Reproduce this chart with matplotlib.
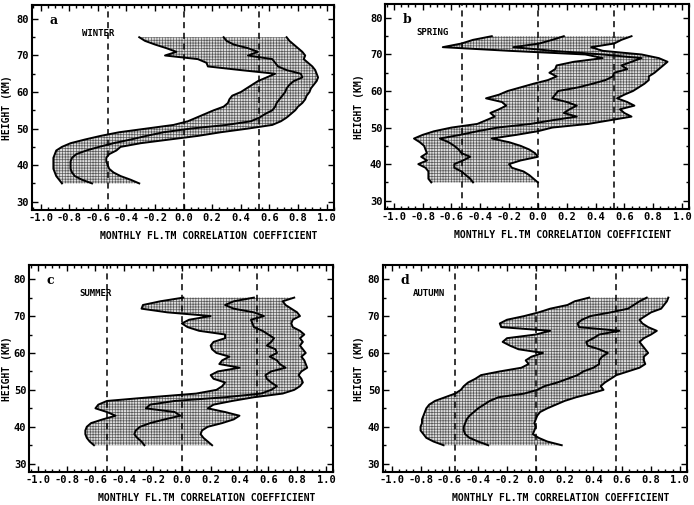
import numpy as np
import matplotlib.pyplot as plt
from matplotlib.ticker import MultipleLocator

plt.rcParams['hatch.linewidth'] = 0.5

# heights in km, top to bottom
height = np.arange(75, 34, -1)

# a: winter
winter_low = [-0.31, -0.27, -0.20, -0.12, -0.05, -0.13, 0.10, 0.16, 0.17, 0.40,
              0.64, 0.58, 0.52, 0.48, 0.44, 0.40, 0.34, 0.32, 0.31, 0.28,
              0.21, 0.15, 0.09, 0.03, -0.07, -0.26, -0.45, -0.58, -0.69, -0.79,
              -0.85, -0.89, -0.90, -0.91, -0.91, -0.91, -0.91, -0.90, -0.89, -0.87, -0.85]
winter_mid = [0.28, 0.30, 0.35, 0.45, 0.52, 0.45, 0.62, 0.64, 0.66, 0.72,
              0.82, 0.83, 0.77, 0.74, 0.72, 0.71, 0.69, 0.67, 0.65, 0.64,
              0.62, 0.57, 0.53, 0.47, 0.30, 0.05, -0.14, -0.26, -0.37, -0.49,
              -0.59, -0.68, -0.75, -0.78, -0.79, -0.79, -0.79, -0.78, -0.76, -0.71, -0.64]
winter_high = [0.72, 0.74, 0.77, 0.80, 0.83, 0.85, 0.84, 0.87, 0.90, 0.92,
               0.93, 0.94, 0.93, 0.91, 0.89, 0.88, 0.86, 0.85, 0.83, 0.80,
               0.78, 0.75, 0.72, 0.68, 0.62, 0.45, 0.26, 0.10, -0.10, -0.30,
               -0.44, -0.47, -0.52, -0.54, -0.54, -0.53, -0.52, -0.49, -0.44, -0.37, -0.31]

# b: spring
spring_low = [-0.32, -0.45, -0.53, -0.66, -0.20, 0.33, 0.45, 0.25, 0.13, 0.12,
              0.08, 0.13, 0.07, -0.03, -0.12, -0.21, -0.27, -0.36, -0.25, -0.22,
              -0.27, -0.33, -0.30, -0.36, -0.42, -0.60, -0.72, -0.80, -0.86, -0.82,
              -0.79, -0.78, -0.77, -0.81, -0.77, -0.83, -0.78, -0.76, -0.76, -0.76, -0.74]
spring_mid = [0.18, 0.10, 0.01, -0.17, 0.10, 0.45, 0.72, 0.65, 0.58, 0.62,
              0.53, 0.52, 0.47, 0.38, 0.28, 0.14, 0.12, 0.10, 0.20, 0.27,
              0.22, 0.18, 0.27, 0.10, -0.05, -0.28, -0.42, -0.54, -0.68, -0.62,
              -0.58, -0.55, -0.53, -0.47, -0.52, -0.58, -0.58, -0.53, -0.50, -0.47, -0.45]
spring_high = [0.65, 0.58, 0.53, 0.37, 0.45, 0.72, 0.84, 0.90, 0.87, 0.84,
               0.81, 0.77, 0.77, 0.74, 0.70, 0.66, 0.60, 0.55, 0.62, 0.67,
               0.57, 0.60, 0.65, 0.50, 0.35, 0.10, 0.00, -0.15, -0.32, -0.20,
               -0.12, -0.06, -0.02, 0.00, -0.12, -0.20, -0.18, -0.10, -0.06, -0.03, 0.00]

# c: summer
summer_low = [0.01, -0.15, -0.27, -0.28, -0.10, 0.20, 0.05, 0.00, 0.04, 0.12,
              0.30, 0.30, 0.22, 0.20, 0.21, 0.24, 0.33, 0.28, 0.26, 0.40,
              0.25, 0.20, 0.22, 0.30, 0.28, 0.24, 0.10, -0.22, -0.52, -0.58,
              -0.60, -0.52, -0.46, -0.55, -0.63, -0.66, -0.67, -0.67, -0.66, -0.64, -0.61]
summer_mid = [0.50, 0.36, 0.30, 0.36, 0.50, 0.57, 0.48, 0.49, 0.50, 0.56,
              0.60, 0.64, 0.62, 0.59, 0.65, 0.66, 0.61, 0.66, 0.68, 0.72,
              0.62, 0.58, 0.59, 0.62, 0.66, 0.62, 0.55, 0.30, -0.05, -0.22,
              -0.25, -0.05, -0.01, -0.12, -0.22, -0.29, -0.32, -0.33, -0.31, -0.28, -0.26]
summer_high = [0.78, 0.70, 0.72, 0.76, 0.80, 0.82, 0.77, 0.76, 0.77, 0.82,
               0.85, 0.82, 0.84, 0.82, 0.84, 0.86, 0.83, 0.85, 0.86, 0.87,
               0.83, 0.81, 0.83, 0.84, 0.82, 0.78, 0.70, 0.50, 0.35, 0.22,
               0.18, 0.30, 0.40, 0.36, 0.28, 0.18, 0.14, 0.13, 0.15, 0.18, 0.21]

# d: autumn
autumn_low = [0.37, 0.27, 0.22, 0.10, 0.02, -0.08, -0.20, -0.25, -0.24, 0.10,
              0.00, -0.20, -0.23, -0.18, -0.12, 0.05, -0.03, -0.07, -0.05, -0.10,
              -0.25, -0.38, -0.42, -0.47, -0.50, -0.52, -0.56, -0.63, -0.70, -0.74,
              -0.76, -0.77, -0.78, -0.79, -0.79, -0.80, -0.80, -0.78, -0.76, -0.71, -0.64]
autumn_mid = [0.77, 0.72, 0.68, 0.64, 0.52, 0.38, 0.32, 0.29, 0.30, 0.58,
              0.44, 0.40, 0.35, 0.36, 0.44, 0.50, 0.46, 0.44, 0.44, 0.40,
              0.33, 0.29, 0.22, 0.15, 0.06, 0.01, -0.08, -0.26, -0.32, -0.36,
              -0.40, -0.43, -0.46, -0.48, -0.49, -0.50, -0.50, -0.49, -0.46, -0.40, -0.33]
autumn_high = [0.92, 0.91, 0.89, 0.87, 0.80, 0.76, 0.72, 0.74, 0.78, 0.84,
               0.80, 0.75, 0.72, 0.74, 0.76, 0.78, 0.75, 0.75, 0.76, 0.72,
               0.64, 0.56, 0.52, 0.48, 0.45, 0.47, 0.38, 0.28, 0.20, 0.14,
               0.08, 0.03, 0.01, 0.00, -0.01, 0.00, -0.01, -0.02, 0.02, 0.08, 0.18]

letters = ['a', 'b', 'c', 'd']
seasons = ['WINTER', 'SPRING', 'SUMMER', 'AUTUMN']
season_x = [-0.71, -0.84, -0.71, -0.85]
signif = [0.53, 0.53, 0.52, 0.56]
tick_vals = [-1.0, -0.8, -0.6, -0.4, -0.2, 0.0, 0.2, 0.4, 0.6, 0.8, 1.0]
tick_labels = ['-1.0', '-0.8', '-0.6', '-0.4', '-0.2', '0.0', '0.2', '0.4', '0.6', '0.8', '1.0']

data = [(winter_low, winter_mid, winter_high),
        (spring_low, spring_mid, spring_high),
        (summer_low, summer_mid, summer_high),
        (autumn_low, autumn_mid, autumn_high)]

positions = [[0.046, 0.584, 0.435, 0.406],
             [0.555, 0.586, 0.438, 0.406],
             [0.042, 0.065, 0.438, 0.410],
             [0.552, 0.065, 0.438, 0.410]]
ylabel_x = [-0.066, -0.069, -0.058, -0.063]

mono = 'DejaVu Sans Mono'

fig = plt.figure(figsize=(6.94, 5.05), dpi=100)

for i in range(4):
    ax = fig.add_axes(positions[i])
    low, mid, high = data[i]

    ax.fill_betweenx(height, low, high, facecolor='#dedede', hatch='++++++',
                     edgecolor='#5a5a5a', linewidth=0)
    ax.plot(low, height, color='black', lw=1.4)
    ax.plot(mid, height, color='black', lw=1.4)
    ax.plot(high, height, color='black', lw=1.4)

    for s in (-signif[i], 0.0, signif[i]):
        ax.axvline(s, color='black', lw=1.1, dashes=(4, 3))

    ax.set_xlim(-1.06, 1.05)
    ax.set_ylim(27.7, 83.8)
    ax.set_xticks(tick_vals)
    ax.set_xticklabels(tick_labels)
    ax.xaxis.set_minor_locator(MultipleLocator(0.05))
    ax.set_yticks([30, 40, 50, 60, 70, 80])
    ax.yaxis.set_minor_locator(MultipleLocator(5))
    ax.tick_params(which='both', direction='in', top=True, right=True,
                   labelsize=7.5, pad=2)
    ax.tick_params(which='major', length=4, width=1)
    ax.tick_params(which='minor', length=2.5, width=1)
    for lab in ax.get_xticklabels() + ax.get_yticklabels():
        lab.set_family(mono)
        lab.set_fontweight('bold')
    for sp in ax.spines.values():
        sp.set_linewidth(1.5)

    ax.set_xlabel('MONTHLY FL.TM CORRELATION COEFFICIENT', family=mono,
                  fontsize=7, fontweight='bold')
    ax.xaxis.set_label_coords(0.585, -0.10)
    ax.set_ylabel('HEIGHT (KM)', family=mono, fontsize=7, fontweight='bold')
    ax.yaxis.set_label_coords(ylabel_x[i], 0.5)

    ax.text(-0.94, 79.6, letters[i], family='DejaVu Serif', fontsize=9,
            fontweight='bold', va='center')
    ax.text(season_x[i], 76.0, seasons[i], family=mono, fontsize=6.5,
            fontweight='bold', va='center')

fig.savefig('out.png', dpi=100)
